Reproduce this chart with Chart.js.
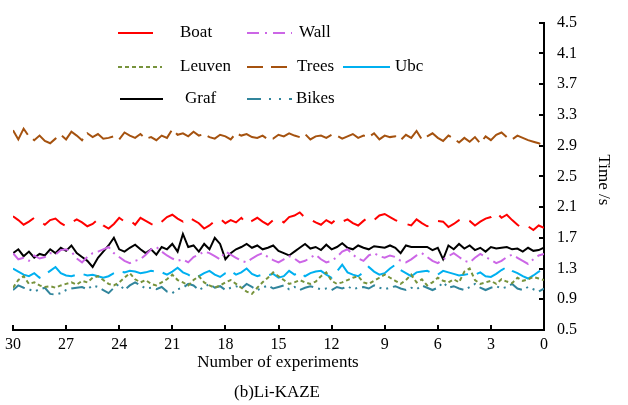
<!DOCTYPE html>
<html>
<head>
<meta charset="utf-8">
<script src="https://cdn.jsdelivr.net/npm/chart.js@4/dist/chart.umd.min.js"></script>
<style>
  html, body { margin: 0; padding: 0; background: #fff; }
  #wrap { width: 628px; height: 405px; }
</style>
</head>
<body>
<div id="wrap"><canvas id="timeChart" width="628" height="405"></canvas></div>
<script>
// experiment index runs 30 -> 0, one run every 0.3
const runCount = 101;
const experiments = [];
for (let i = 0; i < runCount; i++) experiments.push(+(30 - i * 0.3).toFixed(1));

const xTicks = [30, 27, 24, 21, 18, 15, 12, 9, 6, 3, 0];
const yTicks = [0.5, 0.9, 1.3, 1.7, 2.1, 2.5, 2.9, 3.3, 3.7, 4.1, 4.5];

const boat = [1.98,1.93,1.87,1.91,1.96,1.92,1.87,1.93,1.95,1.89,
  1.85,1.90,1.94,1.90,1.85,1.88,1.94,1.86,1.82,1.88,
  1.96,1.91,1.93,1.87,1.96,1.92,1.88,1.85,1.91,1.97,
  2.00,1.95,1.91,1.97,1.93,1.89,1.82,1.86,1.92,1.95,
  1.89,1.93,1.90,1.96,1.88,1.92,1.96,1.91,1.87,1.93,
  1.95,1.90,1.97,1.99,2.03,1.96,1.94,1.90,1.87,1.93,
  1.89,1.95,1.91,1.94,1.89,1.86,1.92,1.97,1.93,1.99,
  2.01,1.97,1.93,1.90,1.88,1.86,1.94,1.89,1.85,1.87,
  1.92,1.91,1.84,1.88,1.93,1.96,1.92,1.86,1.91,1.95,
  1.97,2.03,1.96,2.00,1.93,1.87,1.82,1.85,1.80,1.86,1.83];

const wall = [1.50,1.42,1.44,1.40,1.47,1.43,1.45,1.50,1.48,1.54,
  1.55,1.52,1.43,1.38,1.45,1.50,1.52,1.55,1.58,1.50,
  1.45,1.40,1.37,1.40,1.42,1.48,1.55,1.58,1.52,1.47,
  1.43,1.40,1.42,1.38,1.45,1.48,1.52,1.50,1.46,1.42,
  1.52,1.48,1.44,1.40,1.38,1.43,1.47,1.50,1.45,1.41,
  1.38,1.42,1.46,1.43,1.38,1.40,1.44,1.48,1.42,1.38,
  1.40,1.45,1.52,1.55,1.48,1.43,1.40,1.47,1.50,1.46,
  1.44,1.47,1.45,1.40,1.38,1.42,1.47,1.50,1.45,1.40,
  1.37,1.42,1.46,1.50,1.45,1.40,1.38,1.44,1.49,1.45,
  1.41,1.37,1.40,1.45,1.48,1.44,1.40,1.36,1.42,1.47,1.49];

const leuven = [1.05,1.15,1.20,1.10,1.12,1.08,1.06,1.07,1.05,1.08,
  1.10,1.12,1.09,1.14,1.12,1.18,1.20,1.15,1.10,1.08,
  1.12,1.18,1.24,1.16,1.12,1.15,1.10,1.08,1.12,1.16,
  1.22,1.15,1.12,1.08,1.15,1.20,1.12,1.08,1.05,1.08,
  1.12,1.15,1.10,1.05,1.00,0.97,1.05,1.12,1.18,1.25,
  1.20,1.15,1.10,1.12,1.15,1.12,1.10,1.13,1.20,1.25,
  1.14,1.10,1.12,1.15,1.18,1.20,1.12,1.10,1.14,1.18,
  1.22,1.18,1.14,1.10,1.15,1.22,1.12,1.16,1.08,1.12,
  1.18,1.14,1.12,1.16,1.12,1.26,1.30,1.15,1.10,1.12,
  1.14,1.10,1.16,1.13,1.11,1.18,1.14,1.16,1.19,1.17,1.15];

const trees = [3.10,2.98,3.12,3.02,2.97,3.03,2.96,2.93,2.99,3.04,
  2.98,3.08,3.03,2.97,3.06,3.01,3.05,2.99,3.00,3.02,
  2.98,3.07,3.03,3.00,3.05,2.99,3.01,2.97,3.03,3.00,
  3.11,3.04,3.06,3.02,3.08,3.03,3.05,3.01,2.99,3.04,
  3.02,2.98,3.06,3.03,3.05,3.01,3.00,3.03,2.98,2.99,
  3.04,3.02,3.06,3.03,3.01,3.05,2.98,3.02,3.03,3.00,
  3.04,3.03,2.99,3.02,3.05,3.00,3.03,3.01,3.06,2.98,
  3.03,3.01,3.02,2.97,3.04,3.00,3.09,2.98,3.02,3.06,
  3.00,2.96,3.03,2.99,2.94,3.00,2.95,3.01,2.93,3.02,
  2.97,3.04,3.07,3.01,2.98,3.03,3.00,2.97,2.95,2.93,2.90];

const ubc = [1.30,1.26,1.22,1.20,1.24,1.18,1.22,1.27,1.32,1.24,
  1.21,1.20,1.22,1.23,1.21,1.22,1.20,1.18,1.20,1.24,
  1.26,1.25,1.27,1.26,1.24,1.25,1.27,1.26,1.25,1.22,
  1.26,1.31,1.25,1.22,1.18,1.20,1.24,1.27,1.22,1.19,
  1.24,1.27,1.22,1.25,1.30,1.23,1.20,1.22,1.21,1.23,
  1.18,1.20,1.27,1.22,1.25,1.20,1.24,1.26,1.27,1.22,
  1.18,1.26,1.35,1.25,1.22,1.20,1.25,1.32,1.26,1.22,
  1.24,1.30,1.35,1.28,1.24,1.20,1.25,1.26,1.27,1.24,
  1.22,1.27,1.25,1.23,1.21,1.22,1.23,1.22,1.25,1.20,
  1.19,1.23,1.28,1.32,1.27,1.24,1.20,1.17,1.21,1.26,1.29];

const graf = [1.50,1.55,1.46,1.52,1.44,1.49,1.47,1.55,1.50,1.57,
  1.53,1.60,1.50,1.45,1.40,1.32,1.44,1.52,1.60,1.70,
  1.55,1.52,1.57,1.61,1.55,1.50,1.55,1.48,1.58,1.55,
  1.62,1.52,1.75,1.58,1.60,1.52,1.62,1.55,1.70,1.62,
  1.42,1.50,1.55,1.58,1.62,1.57,1.60,1.55,1.57,1.60,
  1.53,1.50,1.47,1.52,1.57,1.62,1.56,1.58,1.54,1.61,
  1.55,1.58,1.63,1.57,1.55,1.60,1.57,1.55,1.59,1.58,
  1.57,1.60,1.57,1.50,1.60,1.58,1.58,1.58,1.58,1.54,
  1.57,1.42,1.60,1.55,1.62,1.56,1.60,1.54,1.57,1.52,
  1.58,1.56,1.57,1.58,1.55,1.56,1.52,1.57,1.53,1.54,1.57];

const bikes = [1.02,1.08,1.05,1.03,1.00,1.03,1.05,0.97,0.96,0.98,
  1.02,1.04,1.05,1.06,1.03,1.08,1.06,1.02,0.98,1.05,
  1.10,1.02,1.08,1.12,1.08,1.04,1.05,1.03,1.06,1.00,
  0.98,1.03,1.05,1.10,1.08,1.02,1.06,1.10,1.05,1.07,
  1.02,1.05,1.07,1.04,1.10,1.06,1.02,1.05,1.08,1.04,
  1.06,1.08,1.03,1.06,1.02,1.05,1.07,1.05,1.03,1.04,
  1.02,1.06,1.04,1.07,1.03,1.05,1.06,1.04,1.08,1.05,
  1.03,1.05,1.07,1.04,1.02,1.05,1.03,1.08,1.05,1.02,
  1.05,1.12,1.05,1.07,1.04,1.02,1.06,1.10,1.05,1.02,
  1.05,1.07,1.04,1.06,1.10,1.04,1.02,1.06,1.03,1.00,1.04];

const FONT = '"Liberation Serif", "Times New Roman", serif';

function series(label, values, color, dash, legendDash) {
  return {
    label: label,
    data: values.map((v, i) => ({ x: experiments[i], y: v })),
    borderColor: color,
    borderWidth: 2,
    borderDash: dash,
    legendDash: legendDash,
    pointRadius: 0,
    tension: 0,
    fill: false
  };
}

const datasets = [
  series('Boat', boat, '#FF0000', [26, 11], []),
  series('Wall', wall, '#CC66E6', [14, 5, 2, 5], [12, 6, 2, 6]),
  series('Leuven', leuven, '#77933C', [4, 3], [4, 3]),
  series('Trees', trees, '#A5520F', [30, 7], [16, 8]),
  series('Ubc', ubc, '#00B0F0', [32, 9], []),
  series('Graf', graf, '#000000', [], []),
  series('Bikes', bikes, '#31859C', [14, 5, 2, 5, 2, 5], [14, 8, 2, 8, 2, 8])
];

// legend slots: [dataset index, line x0, line x1, text x, row y]
const legendSlots = [
  [0, 118, 153, 180, 33],
  [1, 247, 292, 299, 33],
  [2, 118, 162, 180, 67],
  [3, 247, 292, 297, 67],
  [4, 343, 390, 395, 67],
  [5, 120, 163, 185, 99],
  [6, 247, 292, 296, 99]
];

const decorations = {
  id: 'decorations',
  afterDraw(chart) {
    const ctx = chart.ctx;
    const xs = chart.scales.x, ys = chart.scales.y;
    const area = chart.chartArea;
    ctx.save();
    ctx.strokeStyle = '#000';
    ctx.lineWidth = 2;
    // inward tick marks
    xTicks.forEach(t => {
      const px = Math.round(xs.getPixelForValue(t));
      ctx.beginPath();
      ctx.moveTo(px, area.bottom);
      ctx.lineTo(px, area.bottom - 5);
      ctx.stroke();
    });
    yTicks.forEach(t => {
      const py = Math.round(ys.getPixelForValue(t));
      ctx.beginPath();
      ctx.moveTo(area.right, py);
      ctx.lineTo(area.right - 5, py);
      ctx.stroke();
    });

    // legend
    ctx.font = '17px ' + FONT;
    ctx.textBaseline = 'middle';
    ctx.textAlign = 'left';
    legendSlots.forEach(([di, x0, x1, tx, y]) => {
      const ds = chart.data.datasets[di];
      ctx.strokeStyle = ds.borderColor;
      ctx.lineWidth = 2;
      ctx.setLineDash(ds.legendDash);
      ctx.beginPath();
      ctx.moveTo(x0, y);
      ctx.lineTo(x1, y);
      ctx.stroke();
      ctx.setLineDash([]);
      ctx.fillStyle = '#000';
      ctx.fillText(ds.label, tx, y);
    });

    // axis titles and caption
    ctx.fillStyle = '#000';
    ctx.textAlign = 'center';
    ctx.font = '17px ' + FONT;
    ctx.fillText('Number of experiments', 278, 363);
    ctx.fillText('(b)Li-KAZE', 277, 393);
    ctx.translate(603, 180);
    ctx.rotate(Math.PI / 2);
    ctx.fillText('Time /s', 0, 0);
    ctx.restore();
  }
};

new Chart(document.getElementById('timeChart'), {
  type: 'line',
  data: { datasets: datasets },
  options: {
    responsive: false,
    animation: false,
    layout: { padding: { left: 12, top: 22, right: 0, bottom: 0 } },
    plugins: { legend: { display: false }, tooltip: { enabled: false } },
    scales: {
      x: {
        type: 'linear',
        reverse: true,
        min: 0,
        max: 30,
        afterBuildTicks: s => { s.ticks = xTicks.map(v => ({ value: v })); },
        afterFit: s => { s.height = 75; },
        grid: { display: false, drawTicks: false },
        border: { display: true, color: '#000', width: 2 },
        ticks: { color: '#000', padding: 5, maxRotation: 0, font: { family: FONT, size: 16 } }
      },
      y: {
        position: 'right',
        min: 0.5,
        max: 4.5,
        afterBuildTicks: s => { s.ticks = yTicks.map(v => ({ value: v })); },
        afterFit: s => { s.width = 84; },
        grid: { display: false, drawTicks: false },
        border: { display: true, color: '#000', width: 2 },
        ticks: {
          color: '#000', padding: 13,
          font: { family: FONT, size: 16 },
          callback: v => v.toFixed(1)
        }
      }
    }
  },
  plugins: [decorations]
});
</script>
</body>
</html>
